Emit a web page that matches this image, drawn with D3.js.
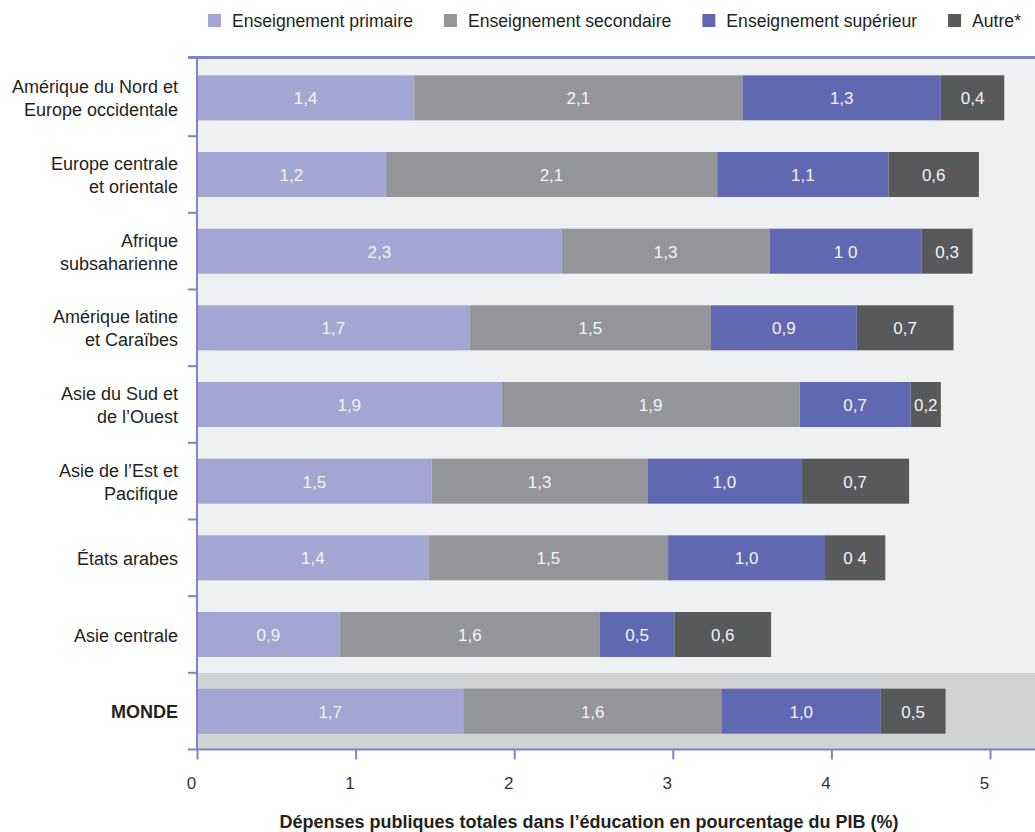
<html><head>
<meta charset="utf-8">
<script src="https://d3js.org/d3.v7.min.js"></script>
<style>
  body { margin: 0; background: #fff; }
  text { font-family: "Liberation Sans", Arial, sans-serif; }
</style>
</head>
<body>
<script>

  // data
  var categories = ["Amérique du Nord et\nEurope occidentale", "Europe centrale\net orientale", "Afrique\nsubsaharienne",
                    "Amérique latine\net Caraïbes", "Asie du Sud et\nde l’Ouest", "Asie de l’Est et\nPacifique",
                    "États arabes", "Asie centrale", "MONDE"];
  var seriesNames = ["Enseignement primaire", "Enseignement secondaire", "Enseignement supérieur", "Autre*"];
  var primaire   = [1.37, 1.19, 2.30, 1.72, 1.92, 1.48, 1.46, 0.90, 1.68];
  var secondaire = [2.07, 2.09, 1.31, 1.52, 1.88, 1.36, 1.51, 1.64, 1.63];
  var superieur  = [1.25, 1.08, 0.96, 0.92, 0.70, 0.97, 0.99, 0.47, 1.00];
  var autre      = [0.40, 0.57, 0.32, 0.61, 0.19, 0.68, 0.38, 0.61, 0.41];
  var labPrimaire   = ["1,4", "1,2", "2,3", "1,7", "1,9", "1,5", "1,4", "0,9", "1,7"];
  var labSecondaire = ["2,1", "2,1", "1,3", "1,5", "1,9", "1,3", "1,5", "1,6", "1,6"];
  var labSuperieur  = ["1,3", "1,1", "1 0", "0,9", "0,7", "1,0", "1,0", "0,5", "1,0"];
  var labAutre      = ["0,4", "0,6", "0,3", "0,7", "0,2", "0,7", "0 4", "0,6", "0,5"];
  var xTicks = [0, 1, 2, 3, 4, 5];
  var xTitle = "Dépenses publiques totales dans l’éducation en pourcentage du PIB (%)";

  var colors = ["#a3a5d3", "#949598", "#5f68b0", "#58595b"];
  var axisColor = "#8083c8";

  let width = 1035, height = 832;
  let svg = d3.select("body").append("svg").attr("width", width).attr("height", height);

  let pLeft = 197, pRight = 1035, pTop = 59.5, pBottom = 749.5;

  let xScale = d3.scaleLinear().domain([0, 5]).range([pLeft, 990]);
  let yBand = d3.scaleBand().domain(categories).range([pTop, pBottom]);
  let yBar = d3.scaleBand().domain(categories).range([pTop, pBottom]).paddingInner(0.413).paddingOuter(0.2065);

  // backgrounds
  svg.append("rect").attr("x", pLeft).attr("y", pTop - 2).attr("width", pRight - pLeft).attr("height", pBottom - pTop + 2).attr("fill", "#eff0f2");
  svg.append("rect").attr("x", pLeft).attr("y", yBand("MONDE")).attr("width", pRight - pLeft).attr("height", yBand.bandwidth()).attr("fill", "#d1d2d4");

  // stacked bars
  let series = [primaire, secondaire, superieur, autre];
  let labels = [labPrimaire, labSecondaire, labSuperieur, labAutre];
  categories.forEach(function(c, i) {
    let acc = 0;
    series.forEach(function(s, k) {
      let x0 = xScale(acc), x1 = xScale(acc + s[i]);
      acc += s[i];
      svg.append("rect")
        .attr("x", x0).attr("y", yBar(c))
        .attr("width", x1 - x0).attr("height", yBar.bandwidth())
        .attr("fill", colors[k]);
      svg.append("text")
        .attr("x", (x0 + x1) / 2).attr("y", yBar(c) + yBar.bandwidth() / 2 + 1)
        .attr("text-anchor", "middle").attr("dominant-baseline", "central")
        .attr("font-size", 17).attr("fill", "#f4f4f6")
        .text(labels[k][i]);
    });
  });

  // axes lines
  svg.append("line").attr("x1", 188).attr("x2", pRight).attr("y1", pTop - 2).attr("y2", pTop - 2)
    .attr("stroke", axisColor).attr("stroke-width", 3);
  svg.append("line").attr("x1", pLeft).attr("x2", pLeft).attr("y1", pTop - 2).attr("y2", pBottom + 1)
    .attr("stroke", axisColor).attr("stroke-width", 2);

  let bounds = categories.slice(1).map(function(c) { return yBand(c); }).concat([pBottom]);
  bounds.forEach(function(b) {
    svg.append("line").attr("x1", 188).attr("x2", pLeft).attr("y1", b).attr("y2", b)
      .attr("stroke", axisColor).attr("stroke-width", 2);
  });

  let xAxis = d3.axisBottom(xScale).tickValues(xTicks).tickSize(10).tickSizeOuter(0).tickPadding(17)
    .tickFormat(function(d) { return d; });
  let gx = svg.append("g").attr("transform", "translate(0," + pBottom + ")").call(xAxis);
  gx.select(".domain").remove();
  gx.selectAll(".tick line").attr("stroke", axisColor).attr("stroke-width", 2);
  gx.selectAll(".tick text").attr("font-size", 17).attr("font-family", "Liberation Sans, Arial, sans-serif")
    .attr("fill", "#333").attr("dx", -6);
  svg.append("line").attr("x1", pLeft - 1).attr("x2", pRight).attr("y1", pBottom).attr("y2", pBottom)
    .attr("stroke", axisColor).attr("stroke-width", 2);

  // category labels
  categories.forEach(function(c) {
    let lines = c.split("\n");
    let cy = yBand(c) + yBand.bandwidth() / 2 + 1;
    lines.forEach(function(l, j) {
      svg.append("text")
        .attr("x", 178).attr("y", cy + (j - (lines.length - 1) / 2) * 23)
        .attr("text-anchor", "end").attr("dominant-baseline", "central")
        .attr("font-size", 18).attr("fill", "#231f20")
        .attr("font-weight", c == "MONDE" ? "bold" : "normal")
        .text(l);
    });
  });

  // x title
  svg.append("text").attr("x", 589).attr("y", 822)
    .attr("text-anchor", "middle").attr("dominant-baseline", "central")
    .attr("font-size", 18).attr("font-weight", "bold").attr("fill", "#231f20")
    .text(xTitle);

  // legend
  let lx = 208;
  seriesNames.forEach(function(name, k) {
    svg.append("rect").attr("x", lx).attr("y", 14).attr("width", 13).attr("height", 13).attr("fill", colors[k]);
    let t = svg.append("text").attr("x", lx + 24).attr("y", 21).attr("dominant-baseline", "central")
      .attr("font-size", 17.6).attr("fill", "#231f20").text(name);
    lx = lx + 24 + t.node().getComputedTextLength() + 31;
  });

</script>
</body>
</html>
